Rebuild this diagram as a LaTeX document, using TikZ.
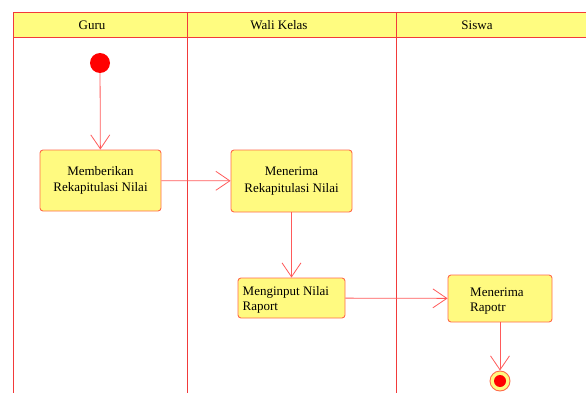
\documentclass[tikz,border=0pt]{standalone}
\usepackage{fontspec}
\setmainfont{Liberation Serif}
\usetikzlibrary{arrows.meta}
\definecolor{laneRed}{HTML}{F23A3A}
\definecolor{flowRed}{HTML}{FF5A5A}
\definecolor{boxEdge}{HTML}{FF6A4A}
\definecolor{boxFill}{HTML}{FFFA80}
\definecolor{headFill}{HTML}{FFFC80}
\tikzset{
  lane/.style={draw=laneRed, line width=0.9pt},
  activity/.style={draw=boxEdge, fill=boxFill, rounded corners=3pt, line width=0.9pt,
    inner sep=0pt, font=\fontsize{13}{16.5}\selectfont},
  label text/.style={anchor=base west, font=\fontsize{13}{15}\selectfont, align=left, inner sep=0pt},
  flow/.style={draw=flowRed, line width=0.8pt, -{Straight Barb[length=14pt,width=19pt,line width=0.8pt]}},
  lanehead/.style={font=\fontsize{13}{15}\selectfont, anchor=center}
}
\begin{document}
\begin{tikzpicture}[x=1pt,y=-1pt]
  \useasboundingbox (0,0) rectangle (586,393);
  % swimlane header band
  \fill[headFill] (13,12.5) rectangle (586,37.5);
  \draw[lane] (586,12.5) -- (13,12.5) -- (13,393);
  \draw[lane] (13,37.5) -- (586,37.5);
  \draw[lane] (187,12.5) -- (187,393);
  \draw[lane] (396,12.5) -- (396,393);
  \node[lanehead] (hGuru) at (92,25.5) {Guru};
  \node[lanehead] (hWali) at (279,25.5) {Wali Kelas};
  \node[lanehead] (hSiswa) at (477,25.5) {Siswa};

  % start and end states
  \node[circle, fill=red, minimum size=20pt, inner sep=0pt] (start) at (100,63) {};
  \node[circle, draw=boxEdge, fill=boxFill, line width=0.9pt, minimum size=20pt, inner sep=0pt] (finish) at (500,381) {};
  \node[circle, fill=red, minimum size=12pt, inner sep=0pt] (finishDot) at (500,381) {};

  % activities
  \node[activity, minimum width=121pt, minimum height=61pt, align=center] (give) at (100.5,180.5)
    {Memberikan\\Rekapitulasi Nilai};
  \node[activity, minimum width=121pt, minimum height=62pt, align=center] (receive) at (291.5,181)
    {Menerima\\Rekapitulasi Nilai};
  \node[activity, minimum width=107pt, minimum height=40pt] (input) at (291.5,298) {};
  \node[label text] (inputText) at (242.5,310) {Menginput Nilai\\Raport};
  \node[activity, minimum width=104pt, minimum height=47pt] (report) at (500,298.5) {};
  \node[label text] (reportText) at (470,311) {Menerima\\Rapotr};

  % control flows
  \draw[flow] (start) -- (give);
  \draw[flow] (give) -- (receive);
  \draw[flow] (receive) -- (input);
  \draw[flow] (input) -- (report);
  \draw[flow] (report) -- (finish);
\end{tikzpicture}
\end{document}
